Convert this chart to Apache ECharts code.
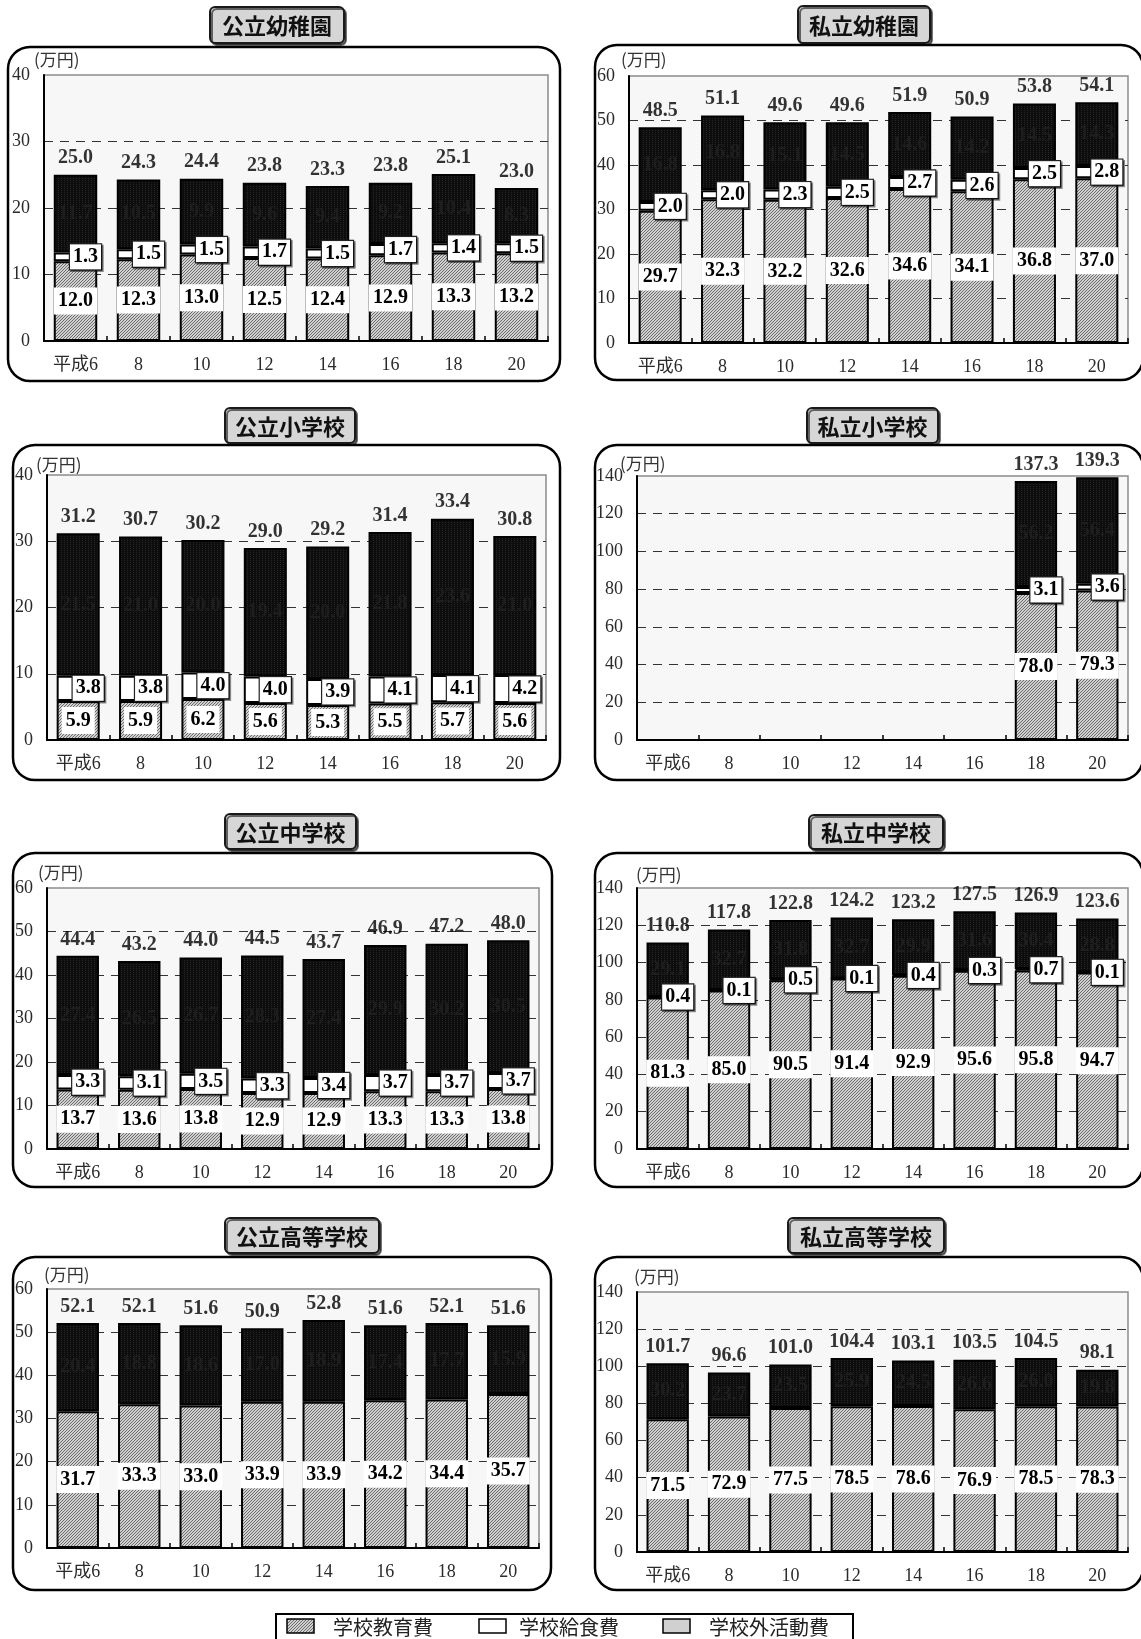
<!DOCTYPE html>
<html lang="ja">
<head>
<meta charset="utf-8">
<title>学校種別 学習費総額の推移</title>
<script src="https://cdn.jsdelivr.net/npm/echarts@6/dist/echarts.min.js"></script>
<style>
  html, body { margin: 0; padding: 0; background: #fff; }
  #chart { width: 1141px; height: 1639px; }
</style>
</head>
<body>
<div id="chart"></div>
<script>
// 年度（平成）
const categories = ['平成6', '8', '10', '12', '14', '16', '18', '20'];

// 公立幼稚園
const kgPubEdu   = [12.0, 12.3, 13.0, 12.5, 12.4, 12.9, 13.3, 13.2];
const kgPubLunch = [1.3, 1.5, 1.5, 1.7, 1.5, 1.7, 1.4, 1.5];
const kgPubOther = [11.7, 10.5, 9.9, 9.6, 9.4, 9.2, 10.4, 8.3];
const kgPubTotal = [25.0, 24.3, 24.4, 23.8, 23.3, 23.8, 25.1, 23.0];

// 私立幼稚園
const kgPriEdu   = [29.7, 32.3, 32.2, 32.6, 34.6, 34.1, 36.8, 37.0];
const kgPriLunch = [2.0, 2.0, 2.3, 2.5, 2.7, 2.6, 2.5, 2.8];
const kgPriOther = [16.8, 16.8, 15.1, 14.5, 14.6, 14.2, 14.5, 14.3];
const kgPriTotal = [48.5, 51.1, 49.6, 49.6, 51.9, 50.9, 53.8, 54.1];

// 公立小学校
const elPubEdu   = [5.9, 5.9, 6.2, 5.6, 5.3, 5.5, 5.7, 5.6];
const elPubLunch = [3.8, 3.8, 4.0, 4.0, 3.9, 4.1, 4.1, 4.2];
const elPubOther = [21.5, 21.0, 20.0, 19.4, 20.0, 21.8, 23.6, 21.0];
const elPubTotal = [31.2, 30.7, 30.2, 29.0, 29.2, 31.4, 33.4, 30.8];

// 私立小学校（平成18年度から）
const elPriEdu   = ['-', '-', '-', '-', '-', '-', 78.0, 79.3];
const elPriLunch = ['-', '-', '-', '-', '-', '-', 3.1, 3.6];
const elPriOther = ['-', '-', '-', '-', '-', '-', 56.2, 56.4];
const elPriTotal = ['-', '-', '-', '-', '-', '-', 137.3, 139.3];

// 公立中学校
const jhPubEdu   = [13.7, 13.6, 13.8, 12.9, 12.9, 13.3, 13.3, 13.8];
const jhPubLunch = [3.3, 3.1, 3.5, 3.3, 3.4, 3.7, 3.7, 3.7];
const jhPubOther = [27.4, 26.5, 26.7, 28.3, 27.4, 29.9, 30.2, 30.5];
const jhPubTotal = [44.4, 43.2, 44.0, 44.5, 43.7, 46.9, 47.2, 48.0];

// 私立中学校
const jhPriEdu   = [81.3, 85.0, 90.5, 91.4, 92.9, 95.6, 95.8, 94.7];
const jhPriLunch = [0.4, 0.1, 0.5, 0.1, 0.4, 0.3, 0.7, 0.1];
const jhPriOther = [29.1, 32.7, 31.8, 32.7, 29.9, 31.6, 30.4, 28.8];
const jhPriTotal = [110.8, 117.8, 122.8, 124.2, 123.2, 127.5, 126.9, 123.6];

// 公立高等学校（給食費なし）
const hsPubEdu   = [31.7, 33.3, 33.0, 33.9, 33.9, 34.2, 34.4, 35.7];
const hsPubLunch = ['-', '-', '-', '-', '-', '-', '-', '-'];
const hsPubOther = [20.4, 18.8, 18.6, 17.0, 18.9, 17.4, 17.7, 15.9];
const hsPubTotal = [52.1, 52.1, 51.6, 50.9, 52.8, 51.6, 52.1, 51.6];

// 私立高等学校（給食費なし）
const hsPriEdu   = [71.5, 72.9, 77.5, 78.5, 78.6, 76.9, 78.5, 78.3];
const hsPriLunch = ['-', '-', '-', '-', '-', '-', '-', '-'];
const hsPriOther = [30.2, 23.7, 23.5, 25.9, 24.5, 26.6, 26.0, 19.8];
const hsPriTotal = [101.7, 96.6, 101.0, 104.4, 103.1, 103.5, 104.5, 98.1];

const seriesNames = ['学校教育費', '学校給食費', '学校外活動費'];

const panels = [
  { title: '公立幼稚園',   max: 40,  step: 10, edu: kgPubEdu, lunch: kgPubLunch, other: kgPubOther, total: kgPubTotal },
  { title: '私立幼稚園',   max: 60,  step: 10, edu: kgPriEdu, lunch: kgPriLunch, other: kgPriOther, total: kgPriTotal },
  { title: '公立小学校',   max: 40,  step: 10, edu: elPubEdu, lunch: elPubLunch, other: elPubOther, total: elPubTotal },
  { title: '私立小学校',   max: 140, step: 20, edu: elPriEdu, lunch: elPriLunch, other: elPriOther, total: elPriTotal },
  { title: '公立中学校',   max: 60,  step: 10, edu: jhPubEdu, lunch: jhPubLunch, other: jhPubOther, total: jhPubTotal },
  { title: '私立中学校',   max: 140, step: 20, edu: jhPriEdu, lunch: jhPriLunch, other: jhPriOther, total: jhPriTotal },
  { title: '公立高等学校', max: 60,  step: 10, edu: hsPubEdu, lunch: hsPubLunch, other: hsPubOther, total: hsPubTotal },
  { title: '私立高等学校', max: 140, step: 20, edu: hsPriEdu, lunch: hsPriLunch, other: hsPriOther, total: hsPriTotal }
];

// page layout of the eight panels: outer frame, title tab, plot area, unit text
const layout = [
  { frame: [8, 47, 552, 334],    tab: [210, 7, 134, 36],    grid: [44, 75, 504, 266],   unit: [34, 60] },
  { frame: [595, 45, 548, 335],  tab: [798, 6, 132, 37],    grid: [629, 76, 499, 267],  unit: [621, 60] },
  { frame: [13, 445, 547, 335],  tab: [225, 408, 130, 35],  grid: [47, 475, 499, 265],  unit: [36, 465] },
  { frame: [595, 445, 548, 335], tab: [807, 408, 131, 35],  grid: [637, 476, 491, 264], unit: [620, 464] },
  { frame: [13, 853, 539, 334],  tab: [225, 814, 131, 35],  grid: [47, 888, 492, 261],  unit: [38, 873] },
  { frame: [595, 853, 548, 334], tab: [809, 815, 134, 34],  grid: [637, 888, 491, 261], unit: [636, 875] },
  { frame: [13, 1257, 538, 333], tab: [225, 1218, 154, 35], grid: [47, 1289, 492, 259], unit: [44, 1275] },
  { frame: [595, 1257, 548, 333],tab: [788, 1218, 156, 35], grid: [637, 1292, 491, 260],unit: [634, 1277] }
];

const SERIF = '"Liberation Serif", "DejaVu Serif", "Noto Sans CJK JP", serif';
const SANS = '"Noto Sans CJK JP", "Noto Sans", sans-serif';

// fine diagonal hatch for 学校教育費
function makeHatch() {
  const c = document.createElement('canvas');
  c.width = 3; c.height = 3;
  const g = c.getContext('2d');
  g.fillStyle = '#d0d0d0';
  g.fillRect(0, 0, 3, 3);
  g.fillStyle = '#6c6c6c';
  // one-pixel diagonal running bottom-left to top-right
  g.fillRect(2, 0, 1, 1);
  g.fillRect(1, 1, 1, 1);
  g.fillRect(0, 2, 1, 1);
  return c;
}
// near-black with faint vertical texture for 学校外活動費
function makeDark() {
  const c = document.createElement('canvas');
  c.width = 3; c.height = 2;
  const g = c.getContext('2d');
  g.fillStyle = '#0d0d0d';
  g.fillRect(0, 0, 3, 2);
  g.fillStyle = '#262626';
  g.fillRect(1, 0, 1, 1);
  return c;
}
const hatchFill = { image: makeHatch(), repeat: 'repeat' };
const darkFill = { image: makeDark(), repeat: 'repeat' };

const fmt = p => (typeof p.value === 'number' ? p.value.toFixed(1) : '');

const grids = [], xAxes = [], yAxes = [], series = [], graphics = [];

panels.forEach((p, i) => {
  const L = layout[i];
  grids.push({
    left: L.grid[0], top: L.grid[1], width: L.grid[2], height: L.grid[3],
    show: true, backgroundColor: '#f7f7f7', borderColor: '#8c8c8c', borderWidth: 1.5
  });
  xAxes.push({
    type: 'category', gridIndex: i, data: categories,
    axisLine: { lineStyle: { color: '#000', width: 2 } },
    axisTick: { show: true, inside: true, length: 5, lineStyle: { color: '#000', width: 1.5 } },
    axisLabel: { fontSize: 18, color: '#2a2a2a', fontFamily: SERIF, margin: 15 }
  });
  yAxes.push({
    type: 'value', gridIndex: i, min: 0, max: p.max, interval: p.step,
    axisLine: { show: true, lineStyle: { color: '#000', width: 2 } },
    axisTick: { show: false },
    axisLabel: { fontSize: 18, color: '#2a2a2a', fontFamily: SERIF, margin: 14 },
    splitLine: { show: true, showMinLine: false, showMaxLine: false,
      lineStyle: { color: '#333', width: 1.2, type: [9, 7] } }
  });

  const barBase = { type: 'bar', xAxisIndex: i, yAxisIndex: i, stack: 'stack' + i, barWidth: '69%' };
  const labelFont = { fontSize: 20, fontWeight: 'bold', fontFamily: SERIF, color: '#000' };

  series.push(Object.assign({}, barBase, {
    name: seriesNames[0], data: p.edu, z: 3,
    itemStyle: { color: hatchFill, borderColor: '#000', borderWidth: 2 },
    label: Object.assign({ show: true, position: 'inside', formatter: fmt,
      backgroundColor: '#fff', padding: [4, 4, 3, 4] }, labelFont)
  }));
  series.push(Object.assign({}, barBase, {
    name: seriesNames[1], data: p.lunch, z: 4,
    itemStyle: { color: '#fff', borderColor: '#000', borderWidth: 2 },
    label: Object.assign({ show: true, position: 'inside', offset: [10, 0], formatter: fmt,
      backgroundColor: '#fff', borderColor: '#222', borderWidth: 1.2, padding: [3, 3, 2, 3],
      shadowColor: 'rgba(0,0,0,0.45)', shadowOffsetX: 1.5, shadowOffsetY: 1.5 }, labelFont)
  }));
  series.push(Object.assign({}, barBase, {
    name: seriesNames[2], data: p.other, z: 2,
    itemStyle: { color: darkFill, borderColor: '#000', borderWidth: 2 },
    label: Object.assign({ show: true, position: 'inside', formatter: fmt }, labelFont, { color: '#1e1e1e' })
  }));
  // 合計 label above each column
  series.push({
    type: 'scatter', name: '合計', xAxisIndex: i, yAxisIndex: i, data: p.total, z: 5,
    symbolSize: 1, silent: true, itemStyle: { color: 'transparent' },
    label: Object.assign({ show: true, position: 'top', distance: 6, formatter: fmt }, labelFont)
  });

  // outer rounded frame
  graphics.push({
    type: 'rect', z: 1,
    shape: { x: L.frame[0], y: L.frame[1], width: L.frame[2], height: L.frame[3], r: 22 },
    style: { fill: 'none', stroke: '#000', lineWidth: 2.5 }
  });
  // title tab
  graphics.push({
    type: 'rect', z: 10,
    shape: { x: L.tab[0], y: L.tab[1], width: L.tab[2], height: L.tab[3], r: 5 },
    style: { fill: '#d6d6d6', stroke: '#1a1a1a', lineWidth: 2,
      shadowColor: 'rgba(0,0,0,0.55)', shadowOffsetX: 2, shadowOffsetY: 2 }
  });
  graphics.push({
    type: 'text', z: 11,
    x: L.tab[0] + L.tab[2] / 2, y: L.tab[1] + L.tab[3] / 2 + 1,
    style: { text: p.title, fontSize: 22, fontWeight: 'bold', fontFamily: SANS,
      fill: '#111', align: 'center', verticalAlign: 'middle' }
  });
  // unit
  graphics.push({
    type: 'text', z: 11, x: L.unit[0], y: L.unit[1],
    style: { text: '(万円)', fontSize: 17, fontFamily: SANS, fill: '#333',
      align: 'left', verticalAlign: 'middle' }
  });
});

// legend strip at the bottom
const legendItems = [
  { name: seriesNames[0], sw: 287, tx: 333, fill: hatchFill },
  { name: seriesNames[1], sw: 479, tx: 519, fill: '#fff' },
  { name: seriesNames[2], sw: 663, tx: 709, fill: '#d0d0d0' }
];
graphics.push({
  type: 'rect', z: 1,
  shape: { x: 276, y: 1614, width: 577, height: 40 },
  style: { fill: '#fff', stroke: '#000', lineWidth: 2 }
});
legendItems.forEach(it => {
  graphics.push({
    type: 'rect', z: 2,
    shape: { x: it.sw, y: 1619, width: 27, height: 14 },
    style: { fill: it.fill, stroke: '#000', lineWidth: 1.5 }
  });
  graphics.push({
    type: 'text', z: 2, x: it.tx, y: 1627,
    style: { text: it.name, fontSize: 20, fontFamily: SANS, fill: '#222',
      align: 'left', verticalAlign: 'middle' }
  });
});

const chart = echarts.init(document.getElementById('chart'), null, { renderer: 'canvas' });
chart.setOption({
  backgroundColor: '#fff',
  animation: false,
  grid: grids,
  xAxis: xAxes,
  yAxis: yAxes,
  series: series,
  graphic: graphics
});
</script>
</body>
</html>
